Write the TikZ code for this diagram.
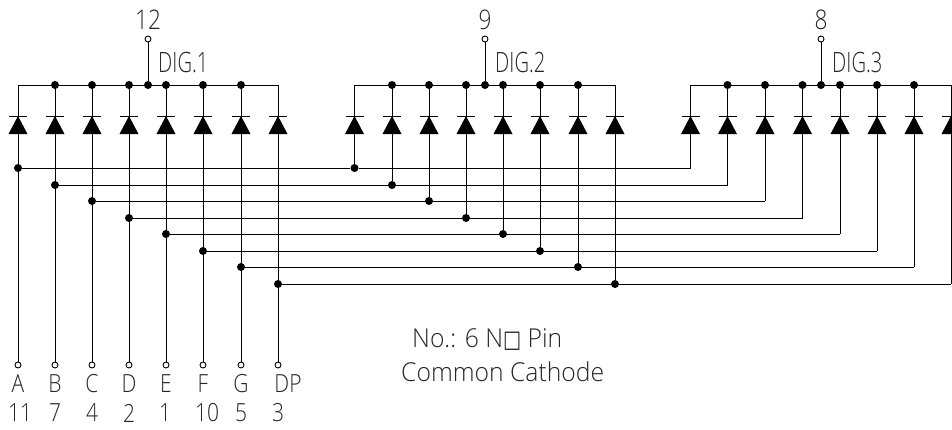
\documentclass[tikz,border=0pt]{standalone}
\usepackage{fontspec}
\newfontfamily\cadfont[FakeStretch=0.84]{Open Sans Light}
\newfontfamily\digfont[FakeStretch=0.72]{Open Sans Light}
\newfontfamily\notefont[FakeStretch=0.95]{Open Sans Light}
\newfontfamily\boxfont[FakeStretch=0.8]{DejaVu Sans}
\usetikzlibrary{calc}
\tikzset{
  wire/.style={line width=1pt,black},
  pin/.style={circle,draw=black,fill=white,line width=0.9pt,minimum size=6pt,inner sep=0pt},
  dot/.style={circle,fill=black,minimum size=8pt,inner sep=0pt},
  lbl/.style={font=\cadfont\fontsize{25}{25}\selectfont,text=black!85,inner sep=0pt},
  toplbl/.style={lbl,font=\cadfont\fontsize{27}{27}\selectfont},
  diglbl/.style={lbl,font=\digfont\fontsize{28}{28}\selectfont,anchor=west},
  note/.style={lbl,font=\notefont\fontsize{26}{26}\selectfont,anchor=west},
  diodefill/.style={fill=black,draw=none}
}
\newcommand{\diode}[2]{%
  \coordinate (#1) at (#2,116);
  \fill[diodefill] ($(#1)+(0,0)$) -- ($(#1)+(9.5,18)$) -- ($(#1)+(-9.5,18)$) -- cycle;
  \draw[line width=1pt] ($(#1)+(-9,0)$) -- ($(#1)+(9,0)$);
}
\begin{document}
\begin{tikzpicture}[x=1pt,y=-1pt]
\useasboundingbox (0,0) rectangle (952,429);
% buses
\foreach \d/\xa/\xb/\xc in {1/18/148/278, 2/354.5/485/615, 3/690.5/821/951}{
  \coordinate (busL\d) at (\xa,85);
  \coordinate (busR\d) at (\xc,85);
  \node[dot] (com\d) at (\xb,85) {};
  \node[pin] (top\d) at (\xb,39) {};
  \draw[wire] (busL\d) -- (busR\d);
  \draw[wire] (top\d) -- (com\d);
}
% pins and rows
\foreach \s/\xa/\xb/\xc/\yr/\nm in {
  1/18/354.5/690.5/168/A, 2/55/392/727.5/185/B, 3/92/429/765/201/C, 4/129/466/802.5/218/D,
  5/166/503/840/234/E, 6/203/540/877/251/F, 7/241/578/914/267/G, 8/278/615/951/284/H}{
  \diode{da\s}{\xa}
  \diode{db\s}{\xb}
  \diode{dc\s}{\xc}
  \coordinate (ta\s) at (\xa,85);
  \coordinate (tb\s) at (\xb,85);
  \coordinate (tc\s) at (\xc,85);
  \coordinate (rc\s) at (\xc,\yr);
  \node[dot] (ra\s) at (\xa,\yr) {};
  \node[dot] (rb\s) at (\xb,\yr) {};
  \node[pin] (pin\s) at (\xa,365) {};
  \draw[wire] (ta\s) -- (pin\s);
  \draw[wire] (tb\s) -- (rb\s);
  \draw[wire] (tc\s) -- (rc\s);
  \draw[wire] (ra\s) -- (rb\s) -- (rc\s);
}
% bus junctions
\foreach \xx [count=\i] in {55,92,129,166,203,241,392,429,466,503,540,578,727.5,765,802.5,840,877,914}{
  \node[dot] (bj\i) at (\xx,85) {};
}
% top labels
\node[toplbl] (n12) at (148,20) {12};
\node[toplbl] (n9) at (485,20) {9};
\node[toplbl] (n8) at (821,20) {8};
\node[diglbl] (dig1) at (158,62) {DIG.1};
\node[diglbl] (dig2) at (495,62) {DIG.2};
\node[diglbl] (dig3) at (832,62) {DIG.3};
% pin labels
\foreach \xx/\tx [count=\i] in {18/A,55/B,92/C,129/D,166/E,203/F,241/G,288/DP}{
  \node[lbl] (l\i) at (\xx,384) {\tx};
}
\foreach \xx/\tx [count=\i] in {20/11,55/7,92/4,129/2,165/1,207/10,241/5,278/3}{
  \node[lbl] (m\i) at (\xx,413) {\tx};
}
\node[note] (no) at (412,340) {No.: 6 N{\boxfont\fontsize{24}{24}\selectfont □} Pin};
\node[note] (cc) at (401,372) {Common Cathode};
\end{tikzpicture}
\end{document}
